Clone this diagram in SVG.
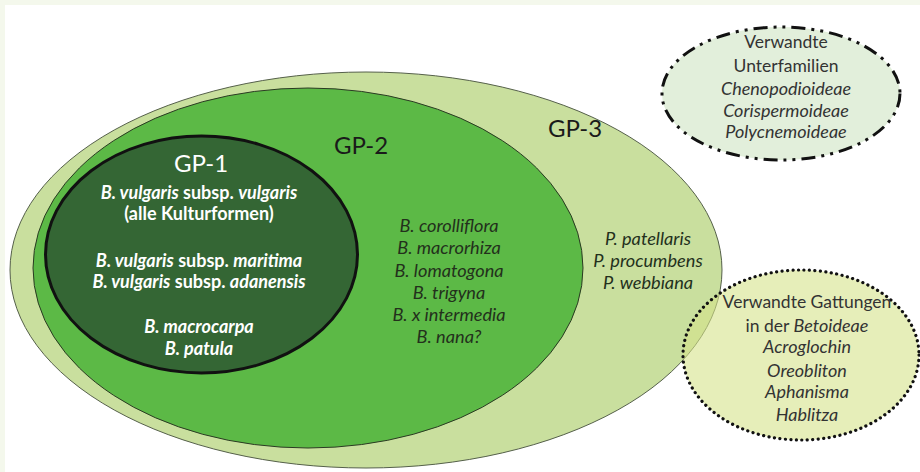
<svg xmlns="http://www.w3.org/2000/svg" width="920" height="472" viewBox="0 0 920 472">
<style>
text{font-family:Lato,"Open Sans","Liberation Sans",sans-serif;text-anchor:middle}
.gp{font-size:24px;fill:#1a1a1a}
.g1{font-size:18px;font-weight:bold;fill:#ffffff}
.sp{font-size:18.2px;font-style:italic;fill:#23301c}
.tx{font-size:17.5px;fill:#333333}
.it{font-style:italic}
.tx.it,.tx .it{font-size:18px}
</style>
<rect x="0" y="0" width="920" height="472" fill="#f4f8ec"/>
<rect x="5" y="5" width="915" height="467" fill="#ffffff"/>
<g id="gp3">
<ellipse cx="366" cy="270" rx="356" ry="198" fill="#c9df9e" stroke="#55604a" stroke-width="1"/>
<text class="gp" x="575" y="137">GP-3</text>
<text class="sp" x="648" y="245">P. patellaris</text>
<text class="sp" x="648" y="267">P. procumbens</text>
<text class="sp" x="648" y="289">P. webbiana</text>
</g>
<g id="gp2">
<ellipse cx="308" cy="268" rx="275" ry="180" fill="#5cb946" stroke="#2a3a22" stroke-width="1"/>
<text class="gp" x="361" y="154">GP-2</text>
<text class="sp" x="449" y="232">B. corolliflora</text>
<text class="sp" x="449" y="254">B. macrorhiza</text>
<text class="sp" x="449" y="277">B. lomatogona</text>
<text class="sp" x="449" y="299">B. trigyna</text>
<text class="sp" x="449" y="321">B. x intermedia</text>
<text class="sp" x="449" y="343">B. nana?</text>
</g>
<g id="gp1">
<ellipse cx="201.5" cy="254.5" rx="156" ry="118.5" fill="#346634" stroke="#111111" stroke-width="3"/>
<text class="gp" x="201" y="172" style="fill:#ffffff">GP-1</text>
<text class="g1" x="199" y="199"><tspan class="it">B. vulgaris</tspan> subsp. <tspan class="it">vulgaris</tspan></text>
<text class="g1" x="199" y="220">(alle Kulturformen)</text>
<text class="g1" x="199" y="267"><tspan class="it">B. vulgaris</tspan> subsp. <tspan class="it">maritima</tspan></text>
<text class="g1" x="199" y="288"><tspan class="it">B. vulgaris</tspan> subsp. <tspan class="it">adanensis</tspan></text>
<text class="g1 it" x="199" y="333">B. macrocarpa</text>
<text class="g1 it" x="199" y="355">B. patula</text>
</g>
<g id="unterfamilien">
<ellipse cx="781" cy="93.5" rx="119" ry="66.5" fill="#e2efdb" stroke="#111111" stroke-width="3" stroke-dasharray="14 6 3 6 3 6"/>
<text class="tx" x="786" y="48">Verwandte</text>
<text class="tx" x="786" y="72">Unterfamilien</text>
<text class="tx it" x="786" y="95">Chenopodioideae</text>
<text class="tx it" x="786" y="117">Corispermoideae</text>
<text class="tx it" x="786" y="138">Polycnemoideae</text>
</g>
<g id="gattungen">
<ellipse cx="801" cy="355" rx="118" ry="85" fill="#d6e28a" fill-opacity="0.6" stroke="#111111" stroke-width="3.2" stroke-linecap="round" stroke-dasharray="0.1 5.4"/>
<text class="tx" x="807" y="308">Verwandte Gattungen</text>
<text class="tx" x="807" y="332">in der <tspan class="it">Betoideae</tspan></text>
<text class="tx it" x="807" y="353">Acroglochin</text>
<text class="tx it" x="807" y="377">Oreobliton</text>
<text class="tx it" x="807" y="398">Aphanisma</text>
<text class="tx it" x="807" y="421">Hablitza</text>
</g>
<g id="connectors"/>
</svg>
